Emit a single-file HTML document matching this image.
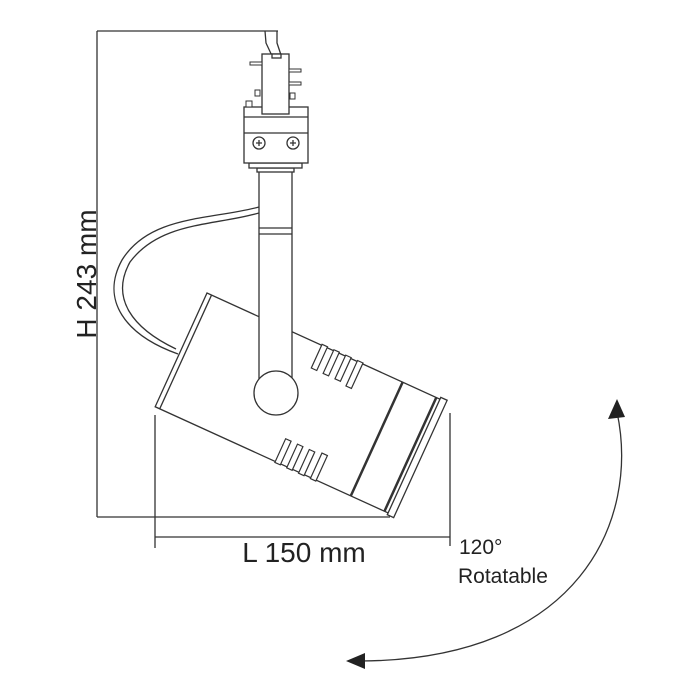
<!DOCTYPE html>
<html><head><style>
html,body{margin:0;padding:0;background:#fff;width:700px;height:700px;overflow:hidden}
svg{display:block}
text{font-family:"Liberation Sans",Arial,sans-serif;fill:#222}
</style></head><body>
<svg width="700" height="700" viewBox="0 0 700 700" xmlns="http://www.w3.org/2000/svg">
<g fill="none" stroke="#333" stroke-width="1.3">
<line x1="97" y1="31" x2="278" y2="31"/>
<line x1="97" y1="31" x2="97" y2="517"/>
<line x1="97" y1="517" x2="390" y2="517"/>
<line x1="155" y1="415" x2="155" y2="548"/>
<line x1="450" y1="413" x2="450" y2="546"/>
<line x1="155" y1="537" x2="450" y2="537"/>
<path d="M265,31 L266,43 L273,58"/>
<path d="M277,31 L277,43 L282,58"/>
<path d="M259,207 C210,220 150,215 122,260 C100,300 125,335 178,354"/>
<path d="M259,213 C212,226 160,222 130,262 C110,298 132,328 176,349"/>
</g>
<g transform="translate(207,293) rotate(24.5)" stroke="#333" stroke-width="1.3" fill="#fff">
<rect x="0" y="0" width="262" height="125"/>
<line x1="5" y1="0" x2="5" y2="125"/>
<line x1="215" y1="0" x2="215" y2="125" stroke-width="2.5"/>
<line x1="252" y1="0" x2="252" y2="125" stroke-width="2.5"/>
<rect x="256" y="-2" width="7" height="129"/>
<g stroke-width="1.2">
<rect x="126" y="-1" width="6" height="26"/>
<rect x="139" y="-1" width="6" height="26"/>
<rect x="152" y="-1" width="6" height="26"/>
<rect x="165" y="-1" width="6" height="28"/>
<rect x="132" y="100" width="6" height="26"/>
<rect x="145" y="100" width="6" height="26"/>
<rect x="158" y="100" width="6" height="26"/>
<rect x="171" y="98" width="6" height="28"/>
</g>
</g>
<g stroke="#333" stroke-width="1.3" fill="#fff">
<rect x="259" y="170" width="33" height="210"/>
<line x1="259" y1="228" x2="292" y2="228"/>
<line x1="259" y1="234" x2="292" y2="234"/>
<circle cx="276" cy="393" r="22"/>
<rect x="257" y="168" width="37" height="4"/>
<rect x="249" y="163" width="53" height="5"/>
<rect x="244" y="107" width="64" height="56"/>
<line x1="244" y1="117" x2="308" y2="117"/>
<line x1="244" y1="133" x2="308" y2="133"/>
<rect x="262" y="54" width="27" height="60"/>
<rect x="272" y="54" width="9" height="4"/>
<circle cx="259" cy="143" r="6"/>
<circle cx="293" cy="143" r="6"/>
<path d="M256,143h6M259,140v6M290,143h6M293,140v6" fill="none"/>
<rect x="250" y="62" width="12" height="3" stroke-width="1"/>
<rect x="289" y="69" width="12" height="3" stroke-width="1"/>
<rect x="289" y="82" width="12" height="3" stroke-width="1"/>
<rect x="255" y="90" width="5" height="6" stroke-width="1"/>
<rect x="290" y="93" width="5" height="6" stroke-width="1"/>
<rect x="246" y="101" width="6" height="6" stroke-width="1"/>
</g>
<path d="M617,412 C640,520 580,660 360,661" fill="none" stroke="#333" stroke-width="1.3"/>
<polygon points="617,399 608,419 625,417" fill="#222"/>
<polygon points="346,661 365,653 365,669" fill="#222"/>
<text x="0" y="0" font-size="28" text-anchor="middle" transform="translate(96,274) rotate(-90)">H 243 mm</text>
<text x="304" y="562" font-size="28" text-anchor="middle">L 150 mm</text>
<text x="459" y="554" font-size="21">120°</text>
<text x="458" y="583" font-size="21">Rotatable</text>
</svg>
</body></html>
